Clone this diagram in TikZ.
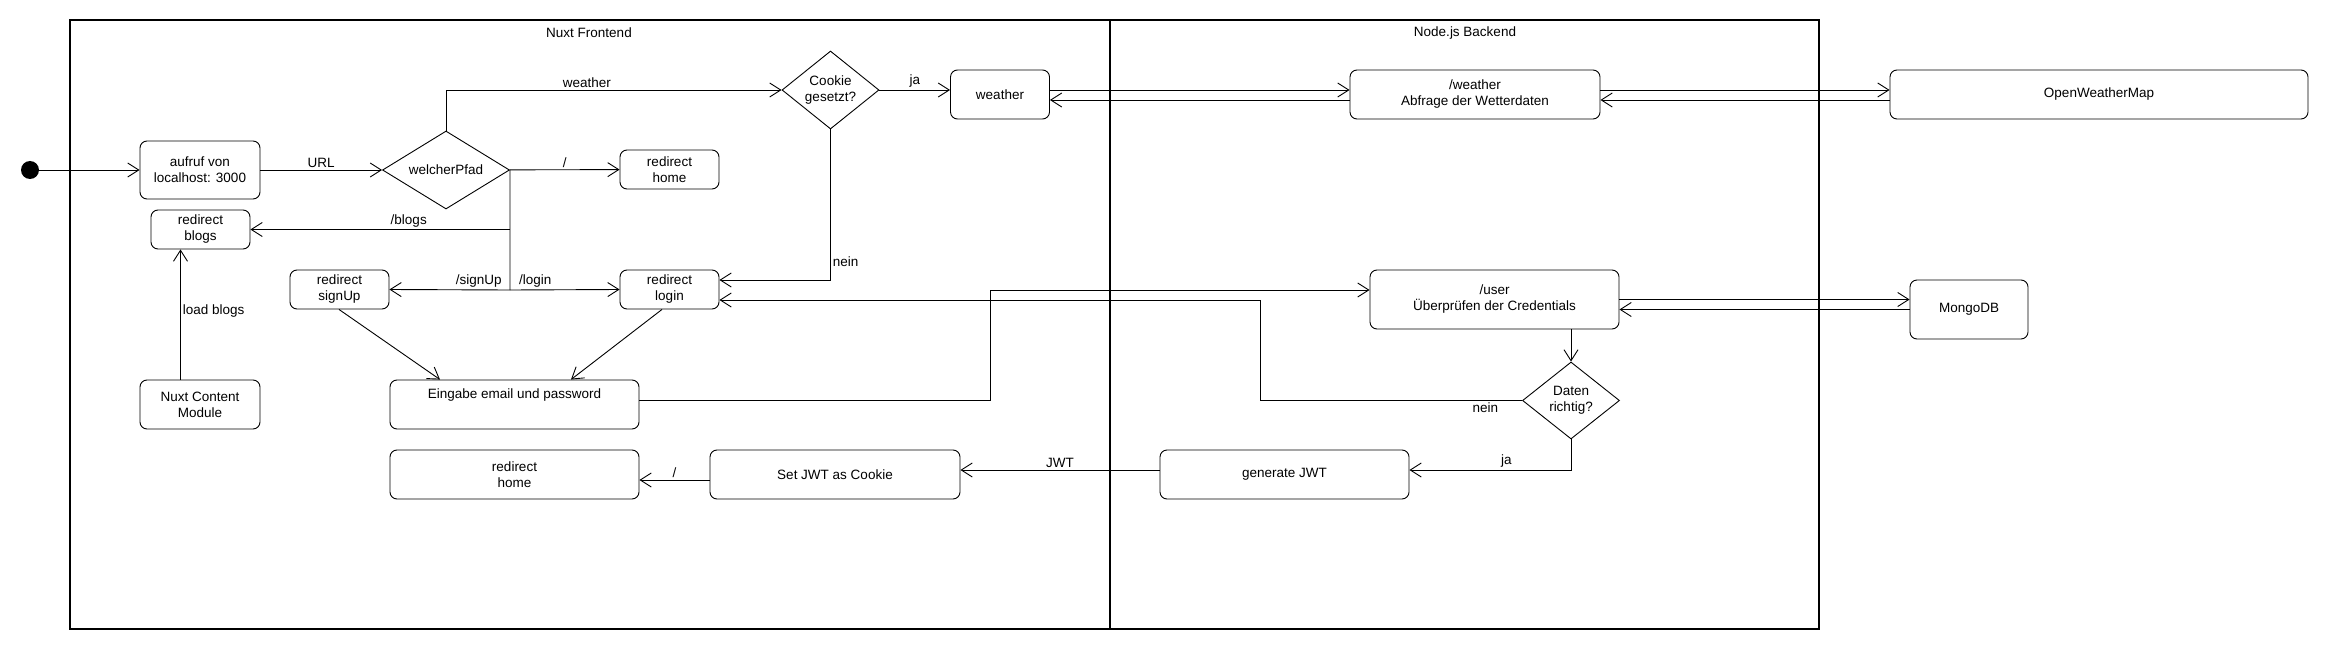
\documentclass[tikz,border=0pt]{standalone}
\usepackage{fontspec}
\setmainfont{Liberation Sans}
\usepackage{tikz}
\usetikzlibrary{shapes.geometric, arrows.meta, positioning, calc}
\newcommand{\umlfont}{\fontsize{13.5}{16}\selectfont}
\tikzset{
  stateB/.style={rectangle, rounded corners=7pt, draw=black,
                 line width=0.9pt, align=center, inner sep=2pt,
                 font=\umlfont},
  decisionD/.style={diamond, draw=black, line width=0.9pt,
                    align=center, inner sep=0pt, font=\umlfont},
  startD/.style={circle, fill=black, minimum size=18pt, inner sep=0pt},
  flow/.style={->, line width=0.9pt},
  flowN/.style={line width=0.9pt},
  lbl/.style={font=\umlfont, inner sep=2pt},
}

\begin{document}
\begin{tikzpicture}[x=1pt, y=-1pt, >={Straight Barb[length=11pt,width=14pt]}]

  \useasboundingbox (0,0) rectangle (2330,650);

  %% Swimlanes
  \draw[line width=1.1pt] (70,20) rectangle (1819,629);
  \draw[line width=2pt] (1110,20) -- (1110,629);
  \node[lbl] (laneF) at (589,33)  {Nuxt Frontend};
  \node[lbl] (laneB) at (1465,33) {Node.js Backend};

  %% --- FRONTEND ---
  \node[startD] (start) at (30,170) {};
  \node[stateB, minimum width=120pt, minimum height=58pt]
    (aufruf) at (200,170) {aufruf von\\localhost: 3000};
  \node[decisionD, aspect=1.63, minimum width=127pt, minimum height=78pt]
    (pfad) at (446,170) {welcherPfad};
  \node[stateB, minimum width=99pt, minimum height=39pt]
    (home1) at (669.5,169.5) {redirect\\home};
  \node[stateB, minimum width=99pt, minimum height=39pt]
    (blogs) at (200.5,229.5) {redirect\\blogs};
  \node[stateB, minimum width=99pt, minimum height=39pt]
    (signup) at (339.5,289.5) {redirect\\signUp};
  \node[stateB, minimum width=99pt, minimum height=39pt]
    (login) at (669.5,289.5) {redirect\\login};
  \node[stateB, minimum width=120pt, minimum height=49pt]
    (content) at (200,404.5) {Nuxt Content\\Module};
  \node[stateB, minimum width=249pt, minimum height=49pt]
    (eingabe) at (514.5,404.5) {Eingabe email und password\\\strut};
  \node[stateB, minimum width=249pt, minimum height=49pt]
    (home2) at (514.5,474.5) {redirect\\home};
  \node[stateB, minimum width=250pt, minimum height=49pt]
    (setjwt) at (835,474.5) {Set JWT as Cookie};
  \node[decisionD, aspect=1.24, minimum width=97pt, minimum height=78pt]
    (cookie) at (830.5,90) {Cookie\\gesetzt?};
  \node[stateB, minimum width=99pt, minimum height=49pt]
    (weather) at (1000,94.5) {weather};

  %% --- BACKEND ---
  \node[stateB, minimum width=250pt, minimum height=49pt]
    (wapi) at (1475,94.5) {/weather\\Abfrage der Wetterdaten};
  \node[stateB, minimum width=249pt, minimum height=59pt]
    (user) at (1494.5,299.5) {/user\\Überprüfen der Credentials};
  \node[decisionD, aspect=1.26, minimum width=97pt, minimum height=77pt]
    (daten) at (1571,400.5) {Daten\\richtig?};
  \node[stateB, minimum width=249pt, minimum height=49pt]
    (genjwt) at (1284.5,474.5) {generate JWT};

  %% --- EXTERNAL ---
  \node[stateB, minimum width=418pt, minimum height=49pt]
    (owm) at (2099,94.5) {OpenWeatherMap};
  \node[stateB, minimum width=118pt, minimum height=59pt]
    (mongo) at (1969,309.5) {MongoDB};

  %% Connectors frontend
  \draw[flow] (start) -- (aufruf);
  \draw[flow] (aufruf) -- node[lbl, above] {URL} (pfad);
  \draw[flow] (pfad) -- node[lbl, above] {/} (home1);
  \draw[flow] (pfad.north) |- node[lbl, above, pos=0.71] {weather} (cookie.west);
  \coordinate (split) at (510,290);
  \draw[flowN] (pfad.east) -- (split);
  \draw[flow] (pfad.east |- blogs.east) -- node[lbl, above, pos=0.39] {/blogs} (blogs.east);
  \draw[flow] (split) -- node[lbl, above, pos=0.26] {/signUp} (signup.east);
  \draw[flow] (split) -- node[lbl, above, pos=0.23] {/login} (login.west);
  \draw[flow] ([xshift=-19.5pt]content.north)
    -- node[lbl, right, pos=0.53] {load blogs} ([xshift=-20pt]blogs.south);
  \draw[flow] ([xshift=-0.5pt]signup.south) -- ([xshift=-74.5pt]eingabe.north);
  \draw[flow] ([xshift=-7.5pt]login.south) -- ([xshift=56.5pt]eingabe.north);
  \draw[flow] (cookie.east) -- node[lbl, above] {ja} (weather.west |- cookie.east);
  \draw[flow] (cookie.south) |- node[lbl, right, pos=0.44] {nein} ([yshift=9.5pt]login.east);

  %% Connectors weather
  \draw[flow] ([yshift=4.5pt]weather.east) -- ([yshift=4.5pt]wapi.west);
  \draw[flow] ([yshift=-5.5pt]wapi.west) -- ([yshift=-5.5pt]weather.east);
  \draw[flow] ([yshift=4.5pt]wapi.east) -- ([yshift=4.5pt]owm.west);
  \draw[flow] ([yshift=-5.5pt]owm.west) -- ([yshift=-5.5pt]wapi.east);

  %% Connectors login
  \coordinate (toUser) at (990,290);
  \draw[flow] ([yshift=4.5pt]eingabe.east) -| (toUser) -- (user.west |- toUser);
  \draw[flow] (user.east) -- (mongo.west |- user.east);
  \draw[flow] (mongo.west) -- (user.east |- mongo.west);
  \draw[flow] (daten.north |- user.south) -- (daten.north);
  \coordinate (backLogin) at (1260,300);
  \draw[flow] (daten.west) -| node[lbl, below, pos=0.07] {nein} (backLogin)
    -- (login.east |- backLogin);
  \draw[flow] (daten.south) |- node[lbl, above, pos=0.7] {ja} ([yshift=4.5pt]genjwt.east);
  \draw[flow] ([yshift=4.5pt]genjwt.west) -- node[lbl, above] {JWT} ([yshift=4.5pt]setjwt.east);
  \draw[flow] ([yshift=-5.5pt]setjwt.west) -- node[lbl, above] {/} ([yshift=-5.5pt]home2.east);

\end{tikzpicture}
\end{document}
